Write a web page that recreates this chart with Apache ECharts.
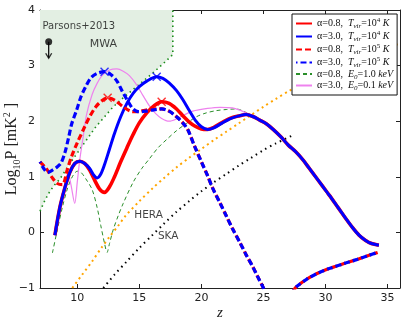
<!DOCTYPE html>
<html>
<head>
    <meta charset="utf-8">
    <style>
        body { margin: 0; background: #fff; }
        #main { width: 407px; height: 321px; }
    </style>
    <script src="https://cdn.jsdelivr.net/npm/echarts@6/dist/echarts.min.js"></script>
</head>
<body>
<div id="main"></div>
<script type="text/javascript">
    // ticks
    var xTicks = [10, 15, 20, 25, 30, 35];
    var yTicks = [-1, 0, 1, 2, 3, 4];

    // [z, log10 P]
    var redSolid = [[8.2,-0.05],[8.6,0.45],[9.0,0.8],[9.4,1.08],[9.8,1.24],[10.2,1.28],[10.6,1.24],[11.0,1.12],[11.4,0.94],[11.8,0.78],[12.2,0.72],[12.6,0.82],[13.0,1.0],[13.5,1.27],[14.0,1.52],[14.5,1.76],[15.0,1.97],[15.6,2.15],[16.2,2.28],[16.8,2.35],[17.4,2.32],[18.0,2.22],[18.5,2.1],[19.0,1.99],[19.5,1.91],[20.0,1.86],[20.5,1.85],[21.0,1.89],[21.7,1.98],[22.4,2.06],[23.1,2.1],[23.6,2.12],[24.2,2.08],[24.7,2.02],[25.2,1.96],[25.8,1.85],[26.4,1.72],[27.0,1.57],[27.6,1.45],[28.2,1.3],[28.7,1.15],[29.2,1.0],[29.7,0.85],[30.3,0.67],[31.0,0.45],[31.6,0.26],[32.2,0.08],[32.7,-0.05],[33.2,-0.14],[33.7,-0.2],[34.3,-0.23]];
    var blueSolid = [[8.2,-0.05],[8.6,0.45],[9.0,0.8],[9.4,1.08],[9.8,1.24],[10.2,1.28],[10.6,1.24],[11.0,1.15],[11.3,1.04],[11.6,0.98],[11.9,1.05],[12.2,1.22],[12.6,1.5],[13.0,1.78],[13.5,2.08],[14.0,2.32],[14.5,2.5],[15.0,2.62],[15.6,2.72],[16.4,2.8],[16.9,2.77],[17.4,2.69],[18.0,2.55],[18.5,2.39],[19.0,2.2],[19.5,2.02],[20.0,1.9],[20.5,1.85],[21.0,1.88],[21.7,1.97],[22.4,2.05],[23.1,2.1],[23.6,2.12],[24.2,2.08],[24.7,2.02],[25.2,1.96],[25.8,1.85],[26.4,1.72],[27.0,1.57],[27.6,1.45],[28.2,1.3],[28.7,1.15],[29.2,1.0],[29.7,0.85],[30.3,0.67],[31.0,0.45],[31.6,0.26],[32.2,0.08],[32.7,-0.05],[33.2,-0.14],[33.7,-0.2],[34.3,-0.23]];
    var redDashed = [[7.0,1.27],[7.5,1.15],[8.0,0.98],[8.4,0.88],[8.8,0.86],[9.2,1.13],[9.55,1.37],[10.0,1.61],[10.6,1.9],[11.0,2.08],[11.5,2.26],[12.0,2.37],[12.45,2.42],[13.0,2.38],[13.7,2.26],[14.3,2.18],[14.8,2.17],[15.3,2.19],[15.8,2.21],[16.4,2.22],[16.8,2.22],[17.4,2.18],[18.0,2.08],[18.5,1.97],[18.9,1.85],[19.45,1.55],[20.0,1.27],[20.5,1.02],[20.9,0.8],[21.5,0.53],[22.0,0.3],[22.5,0.07],[23.1,-0.18],[23.6,-0.4],[24.1,-0.6],[24.5,-0.78],[25.0,-1.0],[25.3,-1.15]];
    var blueDashed = [[7.0,1.27],[7.3,1.15],[7.6,1.08],[8.0,1.12],[8.4,1.18],[8.7,1.25],[9.0,1.43],[9.3,1.7],[9.55,1.95],[9.95,2.2],[10.3,2.44],[10.7,2.63],[11.1,2.78],[11.6,2.86],[12.2,2.89],[12.7,2.84],[13.2,2.72],[13.6,2.55],[14.0,2.39],[14.5,2.22],[15.0,2.17],[15.5,2.18],[16.0,2.2],[16.8,2.22],[17.4,2.18],[18.0,2.08],[18.5,1.97],[18.9,1.85],[19.45,1.55],[20.0,1.27],[20.5,1.02],[20.9,0.8],[21.5,0.53],[22.0,0.3],[22.5,0.07],[23.1,-0.18],[23.6,-0.4],[24.1,-0.6],[24.5,-0.78],[25.0,-1.0],[25.3,-1.15]];
    var dashedTail = [[27.4,-1.05],[27.7,-0.97],[28.5,-0.84],[29.5,-0.72],[30.3,-0.65],[31.5,-0.56],[32.5,-0.49],[33.4,-0.42],[34.2,-0.36]];
    var greenDashed = [[8.0,-0.37],[8.4,0.05],[8.8,0.45],[9.2,0.78],[9.6,1.0],[10.0,1.1],[10.3,1.08],[10.7,0.96],[11.2,0.77],[11.6,0.45],[11.9,0.12],[12.2,-0.2],[12.4,-0.36],[12.6,-0.2],[12.9,0.05],[13.3,0.3],[13.7,0.52],[14.5,0.9],[15.2,1.15],[15.8,1.32],[16.5,1.52],[17.2,1.67],[18.0,1.83],[18.8,1.96],[19.6,2.08],[20.4,2.15],[21.2,2.19],[22.0,2.21],[22.8,2.22],[23.4,2.18],[24.0,2.1]];
    var pinkThin = [[8.2,-0.05],[8.6,0.45],[9.0,0.85],[9.25,1.08],[9.5,0.85],[9.8,0.52],[10.0,0.9],[10.2,1.3],[10.5,1.75],[10.75,2.12],[11.2,2.48],[11.6,2.68],[12.0,2.82],[12.6,2.92],[13.2,2.94],[13.7,2.9],[14.2,2.82],[14.8,2.65],[15.3,2.46],[15.8,2.28],[16.3,2.14],[16.8,2.05],[17.4,2.0],[18.0,2.04],[18.5,2.1],[19.3,2.18],[20.5,2.23],[21.5,2.25],[22.5,2.24],[23.2,2.19],[23.6,2.15],[24.2,2.1],[24.7,2.04],[25.2,1.98],[25.8,1.87],[26.4,1.74],[27.0,1.59],[27.6,1.47],[28.2,1.32],[28.7,1.17],[29.2,1.02],[29.7,0.87],[30.3,0.69],[31.0,0.47],[31.6,0.28],[32.2,0.1],[32.7,-0.03],[33.2,-0.12],[33.7,-0.18],[34.3,-0.21]];
    var mwaLimit = [[7.0,0.38],[7.4,0.58],[7.8,0.74],[8.2,0.86],[8.6,0.96],[9.1,1.13],[9.6,1.3],[10.2,1.49],[10.8,1.68],[11.5,1.9],[12.2,2.08],[12.9,2.26],[13.7,2.42],[14.5,2.57],[15.3,2.72],[16.1,2.87],[16.9,3.03],[17.7,3.2],[17.7,4.0]];
    var hera = [[9.6,-1.0],[10.4,-0.76],[11.2,-0.52],[12.0,-0.26],[12.6,-0.08],[13.3,0.12],[13.9,0.3],[15.0,0.56],[16.1,0.8],[17.0,0.98],[18.0,1.17],[19.0,1.34],[20.0,1.5],[21.0,1.66],[22.0,1.81],[23.0,1.96],[24.0,2.11],[25.0,2.26],[26.0,2.4],[27.1,2.55],[28.5,2.72],[30.0,2.88],[32.0,3.07],[34.0,3.24],[36.0,3.4]];
    var ska = [[12.1,-1.0],[13.0,-0.76],[14.0,-0.52],[15.0,-0.28],[16.0,-0.06],[17.0,0.16],[18.0,0.37],[19.0,0.56],[20.0,0.74],[21.0,0.9],[22.0,1.05],[23.0,1.2],[24.0,1.34],[25.0,1.48],[26.0,1.6],[27.3,1.74]];
    var redPeaks = [[12.45,2.42],[16.8,2.35]];
    var bluePeaks = [[12.2,2.89],[16.4,2.8]];
    var parsonsTop = [7.7, 3.43];
    var parsonsBottom = [7.7, 3.14];
    var notes = [[7.2,3.70,'Parsons+2013',10],[11.0,3.38,'MWA',11],[14.6,0.31,'HERA',10.5],[16.5,-0.07,'SKA',10.5]];

    var seriesNames = ['a08T4', 'a30T4', 'a08T5', 'a30T5', 'a08E1', 'a30E01'];
    var legendText = {
        a08T4: '{n|α=0.8,  }{i|T}{sub|vir}{n|=10}{sup|4}{i| K}',
        a30T4: '{n|α=3.0,  }{i|T}{sub|vir}{n|=10}{sup|4}{i| K}',
        a08T5: '{n|α=0.8,  }{i|T}{sub|vir}{n|=10}{sup|5}{i| K}',
        a30T5: '{n|α=3.0,  }{i|T}{sub|vir}{n|=10}{sup|5}{i| K}',
        a08E1: '{n|α=0.8,  }{i|E}{sub|0}{n|=1.0 }{i|keV}',
        a30E01: '{n|α=3.0,  }{i|E}{sub|0}{n|=0.1 }{i|keV}'
    };

    var serif = 'Liberation Serif';
    var sans = 'DejaVu Sans';
    var xMark = 'path://M0,0L10,10M10,0L0,10';

    function axisCommon(labels) {
        return {
            type: 'value',
            splitLine: { show: false },
            nameMoveOverlap: false,
            axisLine: { show: true, onZero: false, lineStyle: { color: '#222', width: 1 } },
            axisTick: { show: true, inside: true, length: 4, lineStyle: { color: '#222' } },
            axisLabel: { show: labels, color: '#222', fontFamily: sans, fontSize: 11, margin: 5,
                formatter: function (v) { return String(v).replace('-', '\u2212'); } }
        };
    }

    var xBottom = axisCommon(true);
    xBottom.min = 7; xBottom.max = 36;
    xBottom.axisTick.customValues = xTicks;
    xBottom.axisLabel.customValues = xTicks;
    xBottom.name = 'z';
    xBottom.nameLocation = 'middle';
    xBottom.nameGap = 18;
    xBottom.nameTextStyle = { fontFamily: serif, fontStyle: 'italic', fontSize: 15, color: '#222' };
    var xTop = axisCommon(false);
    xTop.min = 7; xTop.max = 36; xTop.position = 'top';
    xTop.axisTick.customValues = xTicks;

    var yLeft = axisCommon(true);
    yLeft.min = -1; yLeft.max = 4; yLeft.interval = 1;
    yLeft.axisLabel.customValues = yTicks;
    yLeft.name = '{a|Log}{b|10}{a|P [mK}{c|2}{a| ]}';
    yLeft.nameLocation = 'middle';
    yLeft.nameGap = 18;
    yLeft.nameRotate = 90;
    yLeft.nameTextStyle = { color: '#222', rich: {
        a: { fontFamily: serif, fontSize: 16, lineHeight: 20, verticalAlign: 'middle' },
        b: { fontFamily: serif, fontSize: 10, lineHeight: 20, verticalAlign: 'bottom' },
        c: { fontFamily: serif, fontSize: 10, lineHeight: 20, verticalAlign: 'top' }
    } };
    var yRight = axisCommon(false);
    yRight.min = -1; yRight.max = 4; yRight.interval = 1; yRight.position = 'right';

    function curve(name, data, color, width, dash, z, offset) {
        return {
            name: name, type: 'line', data: data, symbol: 'none', smooth: 0.3, z: z,
            lineStyle: { color: color, width: width, type: dash || 'solid', dashOffset: offset || 0 },
            itemStyle: { color: color },
            emphasis: { disabled: true }, silent: true
        };
    }

    var series = [
        {
            type: 'line', data: mwaLimit, symbol: 'none', z: 1, silent: true,
            lineStyle: { color: '#1a8c1a', width: 1.6, type: [1.5, 3.5] },
            areaStyle: { origin: 'end', color: '#e3efe3', opacity: 1 }
        },
        curve(null, hera, '#ffa500', 2, [2, 3.5], 2),
        curve(null, ska, '#000', 2, [1.5, 4], 2),
        curve(seriesNames[4], greenDashed, '#2a8f2a', 1, [4, 3], 3),
        curve(seriesNames[5], pinkThin, '#ee82ee', 1.2, 'solid', 3),
        curve(seriesNames[0], redSolid, '#ff0000', 3.6, 'solid', 4),
        curve(seriesNames[1], blueSolid, '#0000ff', 3, 'solid', 5),
        curve(seriesNames[2], redDashed, '#ff0000', 3.2, [6, 3], 6),
        curve(seriesNames[3], blueDashed, '#0000ff', 3.2, [6, 3], 7, 4.5),
        curve(null, dashedTail, '#ff0000', 3.2, [6, 3], 6),
        curve(null, dashedTail, '#0000ff', 3.2, [6, 3], 7, 4.5),
        {
            type: 'scatter', data: redPeaks, symbol: xMark, symbolSize: 8, z: 8, silent: true,
            itemStyle: { color: 'rgba(0,0,0,0)', borderColor: '#ff0000', borderWidth: 1.4 }
        },
        {
            type: 'scatter', data: bluePeaks, symbol: xMark, symbolSize: 8, z: 8, silent: true,
            itemStyle: { color: 'rgba(0,0,0,0)', borderColor: '#0000ff', borderWidth: 1.4 }
        },
        {
            type: 'line', data: [parsonsTop, parsonsBottom], symbol: 'none', z: 8, silent: true,
            lineStyle: { color: '#000', width: 1.2 }
        },
        {
            type: 'scatter', data: [parsonsTop], symbol: 'circle', symbolSize: 7, z: 8, silent: true,
            itemStyle: { color: '#000' }
        },
        {
            type: 'scatter', data: [parsonsBottom], symbol: 'path://M0,0L5,8L10,0', symbolSize: [6, 5], z: 8, silent: true,
            symbolOffset: [0, -2],
            itemStyle: { color: 'rgba(0,0,0,0)', borderColor: '#000', borderWidth: 1.2 }
        },
        {
            type: 'scatter', symbolSize: 0, z: 9, silent: true,
            label: {
                show: true, position: 'right', distance: 0, color: '#111', fontFamily: sans,
                formatter: function (p) { return p.value[2]; }
            },
            data: notes.map(function (n) {
                return { value: n, label: { fontSize: n[3] } };
            })
        }
    ];

    var chart = echarts.init(document.getElementById('main'));
    chart.setOption({
        animation: false,
        backgroundColor: '#fff',
        grid: { left: 40, right: 7, top: 10, bottom: 33, containLabel: false, outerBoundsMode: 'none' },
        xAxis: [xBottom, xTop],
        yAxis: [yLeft, yRight],
        legend: {
            data: seriesNames,
            orient: 'vertical',
            left: 292, top: 14,
            padding: [3, 4, 3, 3],
            itemWidth: 16, itemHeight: 6, itemGap: 0,
            backgroundColor: '#fff',
            borderColor: '#111', borderWidth: 1, borderRadius: 0,
            selectedMode: false,
            itemStyle: { color: 'rgba(0,0,0,0)', borderWidth: 0, opacity: 0 },
            formatter: function (name) { return legendText[name]; },
            textStyle: {
                color: '#111',
                rich: {
                    n: { fontFamily: serif, fontSize: 10, lineHeight: 13 },
                    i: { fontFamily: serif, fontSize: 10, fontStyle: 'italic', lineHeight: 13 },
                    sub: { fontFamily: serif, fontSize: 7, fontStyle: 'italic', lineHeight: 13, verticalAlign: 'bottom' },
                    sup: { fontFamily: serif, fontSize: 7, lineHeight: 13, verticalAlign: 'top' }
                }
            }
        },
        series: series
    });
</script>
</body>
</html>
